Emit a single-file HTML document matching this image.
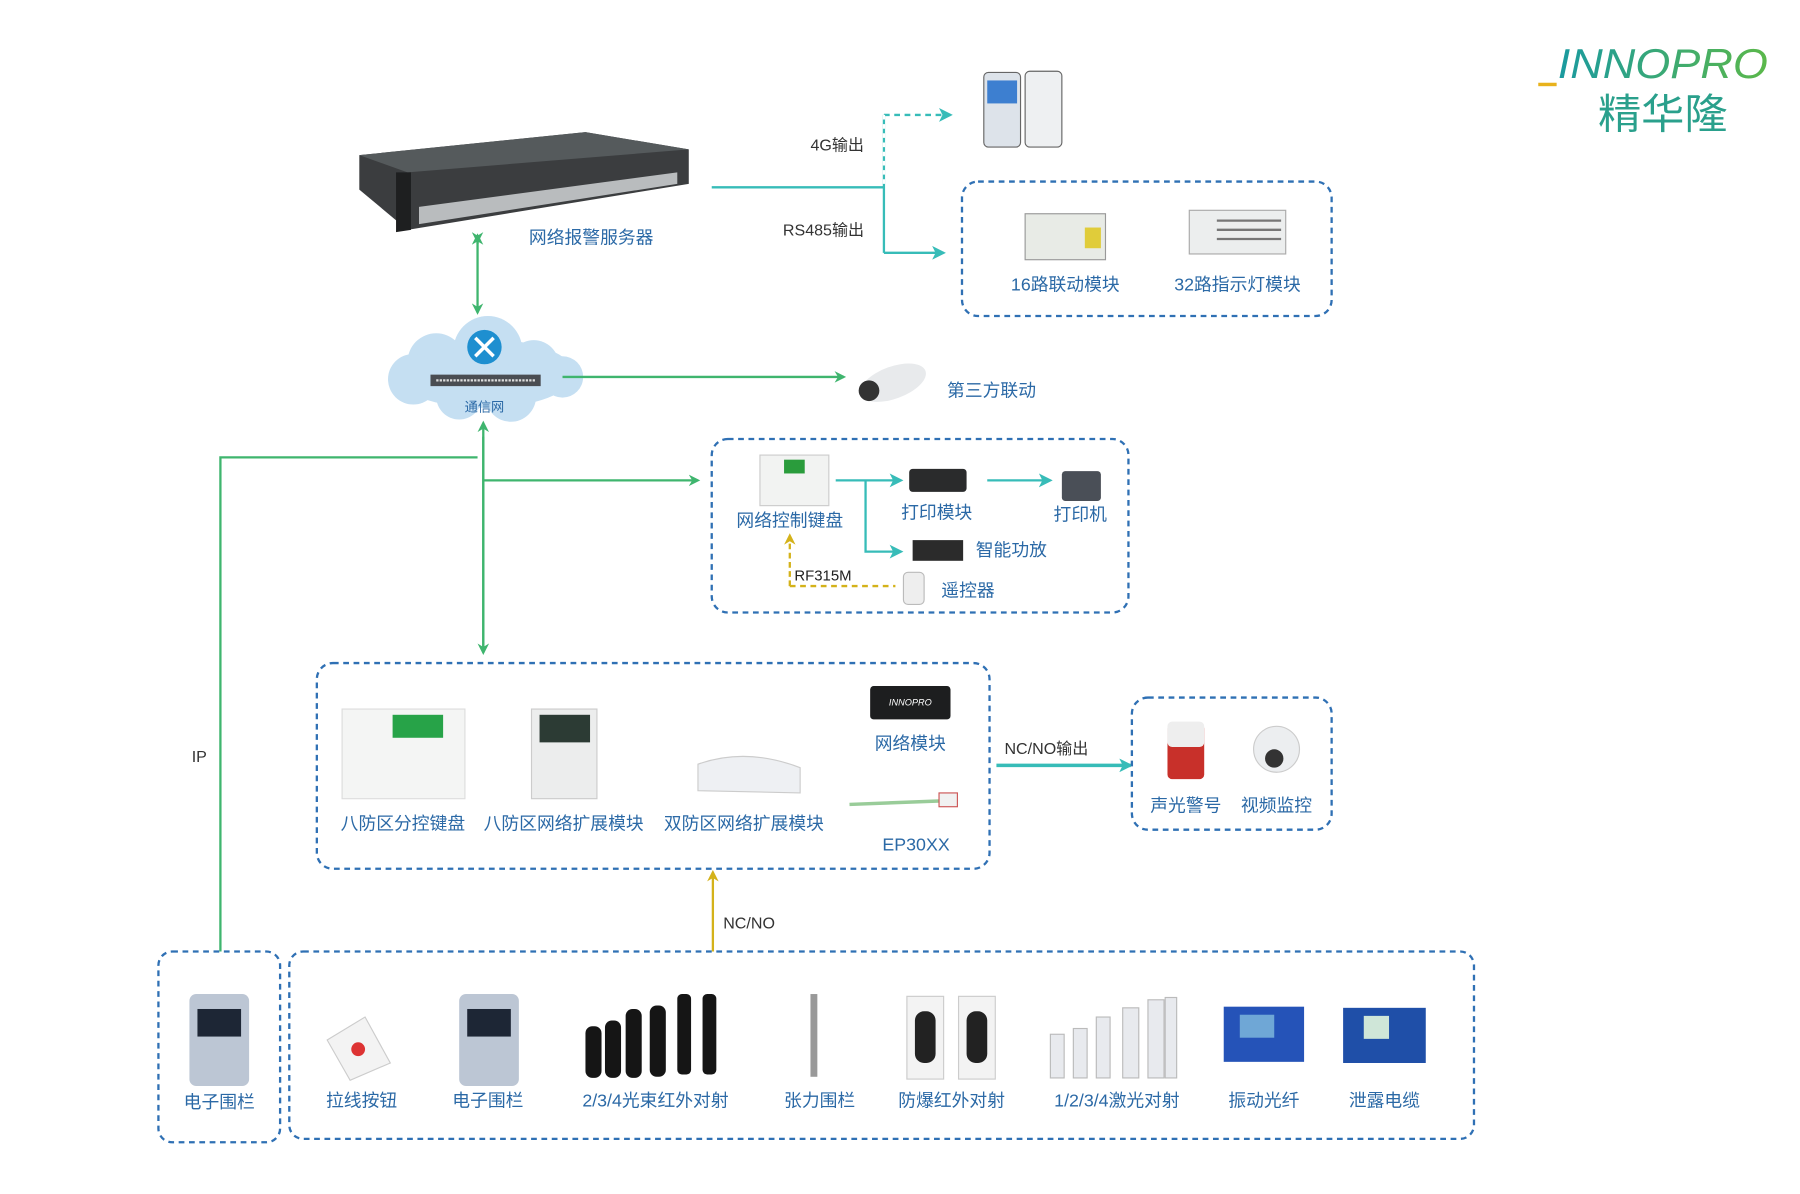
<!DOCTYPE html>
<html><head><meta charset="utf-8"><style>
html,body{margin:0;padding:0;background:#fff;}
svg{display:block;}
text{font-family:"Liberation Sans","Noto Sans CJK SC",sans-serif;}
.l{fill:#2b69a6;font-size:15.5px;text-anchor:middle;}
.k{fill:#333;font-size:14px;}
.box{fill:none;stroke:#2f70b4;stroke-width:2;stroke-dasharray:5,4;}
</style></head><body>
<svg width="1800" height="1194" viewBox="0 0 1568 1039" preserveAspectRatio="none" xmlns="http://www.w3.org/2000/svg">
<defs>
<marker id="ag" markerWidth="10" markerHeight="10" refX="8" refY="5" orient="auto" markerUnits="userSpaceOnUse"><path d="M0,0 L10,5 L0,10 L3,5 Z" fill="#3fb56e"/></marker>
<marker id="at" markerWidth="12" markerHeight="12" refX="10" refY="6" orient="auto" markerUnits="userSpaceOnUse"><path d="M0,0 L12,6 L0,12 L3,6 Z" fill="#37bcb8"/></marker>
<marker id="ay" markerWidth="10" markerHeight="10" refX="8" refY="5" orient="auto" markerUnits="userSpaceOnUse"><path d="M0,0 L10,5 L0,10 L3,5 Z" fill="#d4b21a"/></marker>
<linearGradient id="lg" x1="0" x2="1"><stop offset="0" stop-color="#1a9aa0"/><stop offset="1" stop-color="#5bb84a"/></linearGradient>
</defs>
<rect width="1568" height="1039" fill="#fff"/>
<text x="1357" y="68" font-size="36" font-style="italic" fill="url(#lg)" textLength="183" lengthAdjust="spacingAndGlyphs">INNOPRO</text>
<rect x="1340" y="72" width="16" height="3" fill="#e8b21c"/>
<text x="1392" y="112" font-size="36" fill="#2aa08c" textLength="113" lengthAdjust="spacingAndGlyphs">精华隆</text>

<polygon points="313,135 510,115 600,130 600,160 355,200 313,165" fill="#3b3d3f"/>
<polygon points="313,135 510,115 600,130 355,150" fill="#555a5c"/>
<polygon points="365,180 590,150 590,160 365,195" fill="#b9bcbe"/>
<polygon points="345,150 358,150 358,200 345,202" fill="#1e1f20"/>
<text x="515" y="212" class="l">网络报警服务器</text>

<line x1="620" y1="163" x2="770" y2="163" stroke="#37bcb8" stroke-width="2"/>
<line x1="770" y1="100" x2="770" y2="220" stroke="#37bcb8" stroke-width="2"/>
<line x1="770" y1="100" x2="828" y2="100" stroke="#37bcb8" stroke-width="2" stroke-dasharray="5,4" marker-end="url(#at)"/>
<line x1="770" y1="100" x2="770" y2="163" stroke="#fff" stroke-width="2" stroke-dasharray="4,4"/>
<line x1="770" y1="220" x2="822" y2="220" stroke="#37bcb8" stroke-width="2" marker-end="url(#at)"/>
<text x="706" y="131" class="k">4G输出</text>
<text x="682" y="205" class="k">RS485输出</text>
<rect x="857" y="63" width="32" height="65" rx="4" fill="#dde3ea" stroke="#666"/>
<rect x="860" y="70" width="26" height="20" fill="#3d7fd0"/>
<rect x="893" y="62" width="32" height="66" rx="4" fill="#eef0f2" stroke="#666"/>

<rect x="838" y="158" width="322" height="117" rx="14" class="box"/>
<rect x="893" y="186" width="70" height="40" fill="#e8ebe6" stroke="#999"/>
<rect x="945" y="198" width="14" height="18" fill="#e0cc3a"/>
<rect x="1036" y="183" width="84" height="38" fill="#eceeee" stroke="#aaa"/>
<g stroke="#777" stroke-width="2"><line x1="1060" y1="192" x2="1116" y2="192"/><line x1="1060" y1="200" x2="1116" y2="200"/><line x1="1060" y1="208" x2="1116" y2="208"/></g>
<text x="928" y="253" class="l">16路联动模块</text>
<text x="1078" y="253" class="l">32路指示灯模块</text>

<line x1="416" y1="210" x2="416" y2="272" stroke="#3fb56e" stroke-width="2" marker-end="url(#ag)" marker-start="url(#ag)"/>
<line x1="416" y1="212" x2="416" y2="205" stroke="#3fb56e" stroke-width="2" marker-end="url(#ag)"/>

<g fill="#c5dff2">
<ellipse cx="422" cy="325" rx="78" ry="30"/>
<circle cx="380" cy="315" r="25"/><circle cx="425" cy="305" r="30"/><circle cx="465" cy="318" r="22"/>
<circle cx="360" cy="330" r="22"/><circle cx="490" cy="328" r="18"/><circle cx="400" cy="345" r="20"/><circle cx="445" cy="345" r="22"/>
</g>
<circle cx="422" cy="302" r="15" fill="#1e8fd0"/>
<path d="M414,294 l16,16 M430,294 l-16,16" stroke="#fff" stroke-width="3"/>
<rect x="375" y="326" width="96" height="10" fill="#4a4d52"/>
<line x1="380" y1="331" x2="466" y2="331" stroke="#ddd" stroke-width="2" stroke-dasharray="2,1"/>
<text x="422" y="358" font-size="11.5" fill="#2b69a6" text-anchor="middle">通信网</text>

<line x1="490" y1="328" x2="735" y2="328" stroke="#3fb56e" stroke-width="2" marker-end="url(#ag)"/>
<ellipse cx="778" cy="333" rx="30" ry="14" fill="#e8eaec" transform="rotate(-20 778 333)"/>
<circle cx="757" cy="340" r="9" fill="#333"/>
<text x="825" y="345" class="l" style="text-anchor:start">第三方联动</text>

<line x1="421" y1="566" x2="421" y2="368" stroke="#3fb56e" stroke-width="2" marker-end="url(#ag)"/>
<line x1="421" y1="380" x2="421" y2="568" stroke="#3fb56e" stroke-width="2" marker-end="url(#ag)"/>
<line x1="421" y1="418" x2="608" y2="418" stroke="#3fb56e" stroke-width="2" marker-end="url(#ag)"/>
<polyline points="192,828 192,398 416,398" fill="none" stroke="#3fb56e" stroke-width="2"/>
<text x="167" y="663" class="k" font-size="15">IP</text>

<rect x="620" y="382" width="363" height="151" rx="14" class="box"/>
<rect x="662" y="396" width="60" height="44" fill="#f2f3f2" stroke="#ccc"/>
<rect x="683" y="400" width="18" height="12" fill="#2a9c3c"/>
<text x="688" y="458" class="l">网络控制键盘</text>
<line x1="728" y1="418" x2="785" y2="418" stroke="#37bcb8" stroke-width="2" marker-end="url(#at)"/>
<line x1="860" y1="418" x2="915" y2="418" stroke="#37bcb8" stroke-width="2" marker-end="url(#at)"/>
<polyline points="754,418 754,480 785,480" fill="none" stroke="#37bcb8" stroke-width="2" marker-end="url(#at)"/>
<rect x="792" y="408" width="50" height="20" rx="3" fill="#2a2b2c"/>
<text x="816" y="451" class="l">打印模块</text>
<rect x="925" y="410" width="34" height="26" rx="3" fill="#4a4f57"/>
<text x="941" y="453" class="l">打印机</text>
<rect x="795" y="470" width="44" height="18" fill="#2b2b2b"/>
<text x="850" y="484" class="l" style="text-anchor:start">智能功放</text>
<line x1="688" y1="510" x2="780" y2="510" stroke="#d4b21a" stroke-width="2" stroke-dasharray="5,4"/>
<line x1="688" y1="510" x2="688" y2="466" stroke="#d4b21a" stroke-width="2" stroke-dasharray="5,3" marker-end="url(#ay)"/>
<text x="692" y="505" font-size="13" fill="#222">RF315M</text>
<rect x="787" y="498" width="18" height="28" rx="4" fill="#eee" stroke="#bbb"/>
<text x="820" y="519" class="l" style="text-anchor:start">遥控器</text>

<rect x="276" y="577" width="586" height="179" rx="14" class="box"/>
<rect x="298" y="617" width="107" height="78" fill="#f4f5f4" stroke="#ddd"/>
<rect x="342" y="622" width="44" height="20" fill="#27a348"/>
<text x="351" y="722" class="l">八防区分控键盘</text>
<rect x="463" y="617" width="57" height="78" fill="#eceded" stroke="#ccc"/>
<rect x="470" y="622" width="44" height="24" fill="#2c3b34"/>
<text x="491" y="722" class="l">八防区网络扩展模块</text>
<path d="M608,665 Q650,650 697,668 L697,690 L608,688 Z" fill="#eef0f3" stroke="#ccc"/>
<text x="648" y="722" class="l">双防区网络扩展模块</text>
<rect x="758" y="597" width="70" height="29" rx="3" fill="#1d1e1f"/>
<text x="793" y="614" font-size="8" font-style="italic" fill="#fff" text-anchor="middle">INNOPRO</text>
<text x="793" y="652" class="l">网络模块</text>
<line x1="740" y1="700" x2="818" y2="697" stroke="#9c9" stroke-width="3"/>
<rect x="818" y="690" width="16" height="12" fill="#f1f1f1" stroke="#c55"/>
<text x="798" y="740" class="l">EP30XX</text>

<line x1="868" y1="666" x2="985" y2="666" stroke="#37bcb8" stroke-width="3" marker-end="url(#at)"/>
<text x="875" y="656" class="k">NC/NO输出</text>

<rect x="986" y="607" width="174" height="115" rx="14" class="box"/>
<rect x="1017" y="630" width="32" height="48" rx="4" fill="#c8302a"/>
<rect x="1017" y="628" width="32" height="22" rx="4" fill="#eee"/>
<circle cx="1112" cy="652" r="20" fill="#eceef0" stroke="#ccc"/>
<circle cx="1110" cy="660" r="8" fill="#333"/>
<text x="1033" y="706" class="l">声光警号</text>
<text x="1112" y="706" class="l">视频监控</text>

<line x1="621" y1="828" x2="621" y2="759" stroke="#d4b21a" stroke-width="2" marker-end="url(#ay)"/>
<text x="630" y="808" class="k">NC/NO</text>

<rect x="138" y="828" width="106" height="166" rx="12" class="box"/>
<rect x="252" y="828" width="1032" height="163" rx="12" class="box"/>
<g>
<rect x="165" y="865" width="52" height="80" rx="6" fill="#bcc6d4"/><rect x="172" y="878" width="38" height="24" fill="#1d2635"/>
<polygon points="285,905 318,885 340,925 305,940" fill="#f3f3f3" stroke="#ccc"/><circle cx="312" cy="913" r="6" fill="#d33"/>
<rect x="400" y="865" width="52" height="80" rx="6" fill="#bcc6d4"/><rect x="407" y="878" width="38" height="24" fill="#1d2635"/>
<g fill="#151515"><rect x="510" y="893" width="14" height="45" rx="6"/><rect x="527" y="888" width="14" height="50" rx="6"/><rect x="545" y="878" width="14" height="60" rx="6"/><rect x="566" y="875" width="14" height="62" rx="6"/><rect x="590" y="865" width="12" height="70" rx="4"/><rect x="612" y="865" width="12" height="70" rx="4"/></g>
<rect x="706" y="865" width="6" height="72" fill="#999"/>
<rect x="790" y="867" width="32" height="72" fill="#f3f3f3" stroke="#ccc"/><rect x="797" y="880" width="18" height="45" rx="8" fill="#222"/>
<rect x="835" y="867" width="32" height="72" fill="#f3f3f3" stroke="#ccc"/><rect x="842" y="880" width="18" height="45" rx="8" fill="#222"/>
<g fill="#e8eaee" stroke="#bbb"><rect x="915" y="900" width="12" height="38"/><rect x="935" y="895" width="12" height="43"/><rect x="955" y="885" width="12" height="53"/><rect x="978" y="877" width="14" height="61"/><rect x="1000" y="870" width="14" height="68"/><rect x="1015" y="868" width="10" height="70"/></g>
<rect x="1066" y="876" width="70" height="48" fill="#2553b8"/><rect x="1080" y="883" width="30" height="20" fill="#6fa7d6"/>
<rect x="1170" y="877" width="72" height="48" fill="#1f4fa8"/><rect x="1188" y="884" width="22" height="20" fill="#cfe6d8"/>
</g>
<text x="191" y="964" class="l">电子围栏</text>
<text x="315" y="963" class="l">拉线按钮</text>
<text x="425" y="963" class="l">电子围栏</text>
<text x="571" y="963" class="l">2/3/4光束红外对射</text>
<text x="714" y="963" class="l">张力围栏</text>
<text x="829" y="963" class="l">防爆红外对射</text>
<text x="973" y="963" class="l">1/2/3/4激光对射</text>
<text x="1101" y="963" class="l">振动光纤</text>
<text x="1206" y="963" class="l">泄露电缆</text>
</svg>
</body></html>
